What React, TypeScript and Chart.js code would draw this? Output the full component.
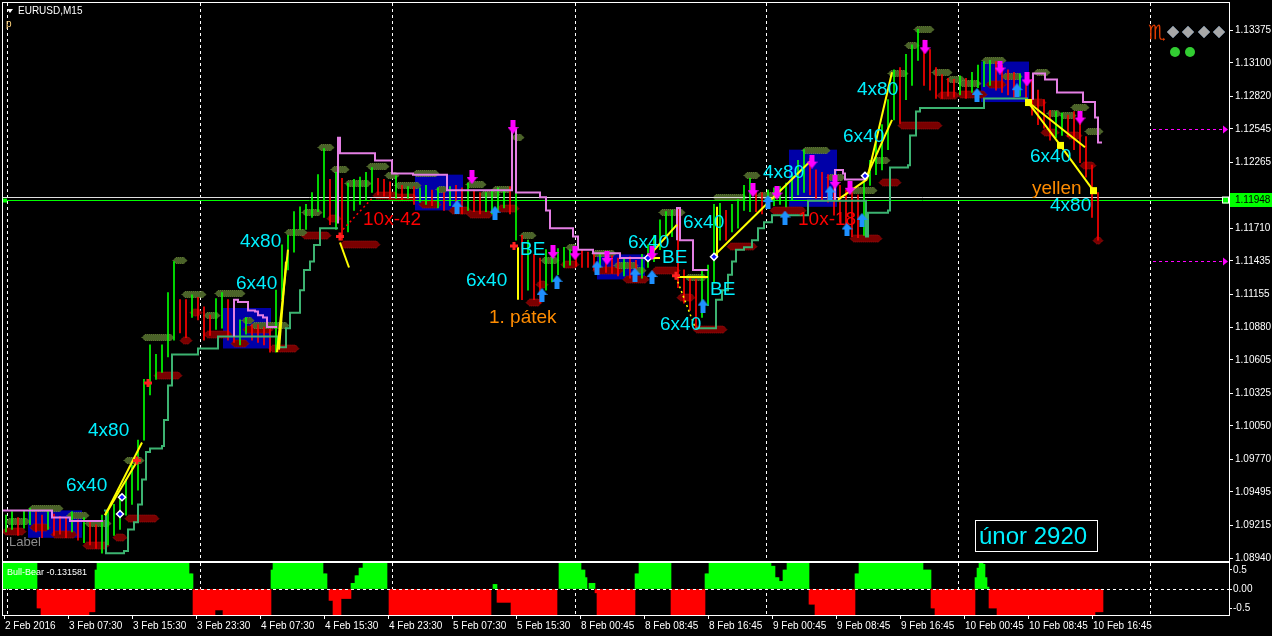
import React, { useEffect, useRef } from 'react';
import { Chart, registerables } from 'chart.js';

Chart.register(...registerables);

// ---------- axes ----------
const BAR_MIN = -0.5;
const BAR_MAX = 612.5;
const PRICE_MIN = 1.08915;
const PRICE_MAX = 1.13602;
const xTickBars = [0, 32, 64, 96, 128, 160, 192, 224, 256, 288, 320, 352, 384, 416, 448, 480, 512, 544];
const xTickLabels = ['2 Feb 2016', '3 Feb 07:30', '3 Feb 15:30', '3 Feb 23:30', '4 Feb 07:30', '4 Feb 15:30', '4 Feb 23:30', '5 Feb 07:30', '5 Feb 15:30', '8 Feb 00:45', '8 Feb 08:45', '8 Feb 16:45', '9 Feb 00:45', '9 Feb 08:45', '9 Feb 16:45', '10 Feb 00:45', '10 Feb 08:45', '10 Feb 16:45'];
const daySeparatorBars = [1.5, 98, 194, 285.5, 381, 477, 573];
const yTickValues = [1.0894, 1.09215, 1.09495, 1.0977, 1.1005, 1.10325, 1.10605, 1.1088, 1.11155, 1.11435, 1.1171, 1.12265, 1.12545, 1.1282, 1.131, 1.13375];
const bidPrice = 1.11948;
const hLinePrice = 1.11972;
const alertPrices = [1.12545, 1.11435];

// ---------- price bars (one sampled every 3 M15 bars) ----------
const candleHigh = [
  1.0930, 1.0933, 1.0928, 1.0934, 1.0936, 1.0933, 1.0930, 1.0934, 1.0931, 1.0929,
  1.0928, 1.0933, 1.0926, 1.0928, 1.0924, 1.0922, 1.0930, 1.0933, 1.0939, 1.0947,
  1.0960, 1.0972, 1.0993, 1.1044, 1.1073, 1.1065, 1.1073, 1.1117, 1.1143, 1.1111,
  1.1111, 1.1115, 1.1113, 1.1105, 1.1098, 1.1112, 1.1117, 1.1111, 1.1092, 1.1094,
  1.1096, 1.1090, 1.1090, 1.1088, 1.1086, 1.1119, 1.1157, 1.1165, 1.1185, 1.1189,
  1.1191, 1.1201, 1.1216, 1.1238, 1.1212, 1.1218, 1.1213, 1.1209, 1.1212, 1.1214,
  1.1218, 1.1222, 1.1213, 1.1212, 1.1210, 1.1215, 1.1207, 1.1206, 1.1206, 1.1205,
  1.1207, 1.1203, 1.1205, 1.1201, 1.1206, 1.1207, 1.1205, 1.1209, 1.1203, 1.1201,
  1.1201, 1.1203, 1.1205, 1.1203, 1.1206, 1.1249, 1.1165, 1.1161, 1.1149, 1.1146,
  1.1153, 1.1151, 1.1154, 1.1155, 1.1153, 1.1154, 1.1153, 1.1151, 1.1149, 1.1149,
  1.1150, 1.1148, 1.1146, 1.1146, 1.1147, 1.1144, 1.1149, 1.1157, 1.1165, 1.1178,
  1.1185, 1.1186, 1.1188, 1.1136, 1.1129, 1.1128, 1.1136, 1.1140, 1.1191, 1.1192,
  1.1186, 1.1191, 1.1195, 1.1207, 1.1213, 1.1201, 1.1201, 1.1203, 1.1205, 1.1206,
  1.1209, 1.1216, 1.1228, 1.1237, 1.1230, 1.1220, 1.1218, 1.1216, 1.1212, 1.1207,
  1.1203, 1.1201, 1.1199, 1.1212, 1.1228, 1.1245, 1.1258, 1.1279, 1.1304, 1.1306,
  1.1317, 1.1325, 1.1338, 1.1329, 1.1321, 1.1306, 1.1300, 1.1297, 1.1296, 1.1299,
  1.1297, 1.1302, 1.1308, 1.1311, 1.1312, 1.1311, 1.1308, 1.1304, 1.1302, 1.1301,
  1.1299, 1.1296, 1.1287, 1.1279, 1.1270, 1.1269, 1.1268, 1.1266, 1.1269, 1.1262,
  1.1248, 1.1224, 1.1201
];
const candleLow = [
  1.0916, 1.0918, 1.0913, 1.0919, 1.0922, 1.0916, 1.0911, 1.0918, 1.0913, 1.0914,
  1.0911, 1.0916, 1.0909, 1.0907, 1.0905, 1.0902, 1.0898, 1.0905, 1.0913, 1.0918,
  1.0930, 1.0939, 1.0951, 1.0993, 1.1031, 1.1044, 1.1050, 1.1063, 1.1077, 1.1083,
  1.1079, 1.1096, 1.1094, 1.1077, 1.1081, 1.1086, 1.1087, 1.1077, 1.1075, 1.1073,
  1.1082, 1.1077, 1.1075, 1.1073, 1.1067, 1.1067, 1.1111, 1.1136, 1.1151, 1.1170,
  1.1170, 1.1180, 1.1185, 1.1180, 1.1174, 1.1170, 1.1161, 1.1168, 1.1186, 1.1191,
  1.1195, 1.1201, 1.1199, 1.1198, 1.1196, 1.1196, 1.1195, 1.1196, 1.1191, 1.1193,
  1.1191, 1.1190, 1.1188, 1.1186, 1.1190, 1.1185, 1.1183, 1.1186, 1.1185, 1.1183,
  1.1185, 1.1183, 1.1186, 1.1188, 1.1183, 1.1161, 1.1111, 1.1119, 1.1111, 1.1108,
  1.1119, 1.1126, 1.1132, 1.1138, 1.1140, 1.1139, 1.1138, 1.1138, 1.1136, 1.1138,
  1.1134, 1.1133, 1.1131, 1.1131, 1.1129, 1.1128, 1.1129, 1.1138, 1.1143, 1.1153,
  1.1163, 1.1164, 1.1121, 1.1108, 1.1102, 1.1086, 1.1096, 1.1106, 1.1126, 1.1161,
  1.1161, 1.1168, 1.1171, 1.1186, 1.1185, 1.1185, 1.1183, 1.1188, 1.1190, 1.1191,
  1.1189, 1.1195, 1.1199, 1.1201, 1.1199, 1.1196, 1.1195, 1.1193, 1.1182, 1.1176,
  1.1174, 1.1164, 1.1163, 1.1165, 1.1207, 1.1216, 1.1220, 1.1237, 1.1262, 1.1259,
  1.1279, 1.1291, 1.1312, 1.1291, 1.1287, 1.1280, 1.1280, 1.1282, 1.1281, 1.1283,
  1.1280, 1.1285, 1.1289, 1.1290, 1.1291, 1.1287, 1.1285, 1.1283, 1.1281, 1.1282,
  1.1279, 1.1266, 1.1258, 1.1255, 1.1245, 1.1247, 1.1249, 1.1248, 1.1237, 1.1226,
  1.1214, 1.1180, 1.1161
];

// ---------- trailing lines: [bar, price] ----------
const tealSegments = [
  [[50, 1.0934], [51, 1.0898], [60, 1.0900], [62, 1.0918], [65, 1.0924], [67, 1.0939], [69, 1.0960], [71, 1.0983], [73, 1.0986], [79, 1.0988], [80, 1.1010], [82, 1.1039], [84, 1.1065], [97, 1.1070], [107, 1.1080], [137, 1.1071], [141, 1.1087], [143, 1.1100], [148, 1.1119], [150, 1.1136], [153, 1.1143], [155, 1.1157], [158, 1.1171], [167, 1.1171]],
  [[346, 1.1087], [356, 1.1111], [359, 1.1119], [362, 1.1132], [364, 1.1143], [366, 1.1153], [370, 1.1155], [374, 1.1161], [377, 1.1171], [380, 1.1176], [384, 1.1182], [402, 1.1194], [431, 1.1164], [432, 1.1184], [442, 1.1186], [443, 1.1222], [452, 1.1224], [453, 1.1249], [456, 1.1269], [458, 1.1272], [490, 1.1280], [512, 1.1280]]
];
const pinkSegments = [
  [[-0.5, 1.0934], [24, 1.0928], [33, 1.0925], [49.5, 1.0925]],
  [[115, 1.1080], [115, 1.1111], [117, 1.1109], [122, 1.1102], [125.5, 1.1101], [127, 1.1098], [129.5, 1.1096], [131.5, 1.1088], [136.5, 1.1088]],
  [[167, 1.1175], [167, 1.1247], [168, 1.1234], [185.5, 1.1228], [194, 1.1217], [204.5, 1.1216], [221.5, 1.1203], [254, 1.1254], [256, 1.1201], [268, 1.1197], [271, 1.1186], [273, 1.1171], [284.5, 1.1164], [287, 1.1153], [294.5, 1.1150], [308, 1.1146], [322, 1.1146]],
  [[336.5, 1.1161], [336.5, 1.1188], [338, 1.1161], [344.5, 1.1136], [352, 1.1136]],
  [[415.5, 1.1195], [415.5, 1.1220], [419.5, 1.1217], [420.5, 1.1212], [431.5, 1.1212]],
  [[514.5, 1.1279], [514.5, 1.1301], [520.5, 1.1296], [526.5, 1.1285], [539.5, 1.1277], [545.5, 1.1264], [547, 1.1243], [549, 1.1243]]
];

// ---------- trade lines [bar1, price1, bar2, price2] ----------
const yellowSegs = [
  [50.5, 1.0930, 69, 1.0991], [50.5, 1.0930, 66.5, 1.0975],
  [136.5, 1.1067, 142, 1.1153], [137.5, 1.1069, 141, 1.1143],
  [168, 1.1159, 172.5, 1.1138],
  [257, 1.1155, 257, 1.1111],
  [321.5, 1.1146, 336.5, 1.1174], [321.5, 1.1146, 328, 1.1146],
  [335.5, 1.1130, 352, 1.1130],
  [354.5, 1.1147, 403, 1.1227], [356.5, 1.1147, 356.5, 1.1189],
  [417, 1.1195, 431.5, 1.1212], [431.5, 1.1212, 444, 1.1302], [431.5, 1.1215, 444, 1.1262],
  [512, 1.1277, 528, 1.1241], [528, 1.1241, 544.5, 1.1203], [512, 1.1277, 540.5, 1.1239]
];
const dottedRedSegs = [[169.5, 1.1170, 184.5, 1.1197]];
const dottedYellowSegs = [[336, 1.1130, 345.5, 1.1088]];
const yellowSquares = [[512, 1.1277], [528, 1.1241], [544.5, 1.1203]];

// ---------- signals [bar, price] ----------
const sellArrows = [[254.5, 1.1256], [234, 1.1214], [274.5, 1.1151], [285.5, 1.1150], [301.5, 1.1146], [324, 1.1150], [374.5, 1.1203], [386.5, 1.1201], [404, 1.1227], [415.5, 1.1210], [423, 1.1205], [460.5, 1.1323], [498, 1.1306], [511.5, 1.1296], [538, 1.1264]];
const buyArrows = [[226.5, 1.1189], [245.5, 1.1184], [269, 1.1115], [276.5, 1.1126], [296.5, 1.1138], [315.5, 1.1132], [324, 1.1130], [349.5, 1.1106], [382, 1.1193], [390.5, 1.1180], [413, 1.1201], [421.5, 1.1170], [429, 1.1178], [486.5, 1.1283], [506.5, 1.1287]];
const crossMarks = [[168, 1.1164], [255, 1.1156], [336, 1.1131], [72, 1.1041], [66.5, 1.0976]];
const entryMarks = [[355, 1.1147], [430.5, 1.1215], [322, 1.1146], [58, 1.0931], [59, 1.0945]];

// ---------- range boxes [bar1, bar2, priceTop, priceBottom] ----------
const rangeBoxes = [
  [12, 39, 1.0934, 1.0911], [109.5, 133.5, 1.1104, 1.1070], [205.5, 229.5, 1.1216, 1.1186],
  [296.5, 320.5, 1.1149, 1.1128], [392.5, 416.5, 1.1237, 1.1189], [488.5, 512.5, 1.1311, 1.1277]
];

// ---------- fractal zones [bar, price, widthBars] ----------
const highZones = [
  [7, 1.0925, 12], [21, 1.0936, 17], [37, 1.0930, 11], [47, 1.0923, 13], [65, 1.0976, 10], [77, 1.1080, 16],
  [88, 1.1144, 7], [95, 1.1116, 12], [104, 1.1098, 8], [113, 1.1117, 15], [122, 1.1094, 6], [133, 1.1090, 19],
  [146, 1.1168, 11], [154, 1.1185, 10], [161, 1.1239, 8], [168, 1.1221, 9], [177, 1.1209, 13], [187, 1.1223, 11],
  [194, 1.1216, 7], [202, 1.1207, 13], [211, 1.1217, 13], [219, 1.1204, 6], [236, 1.1208, 10], [243, 1.1200, 10],
  [249, 1.1204, 10], [257, 1.1248, 6], [262, 1.1165, 8], [273, 1.1144, 9], [284, 1.1155, 6], [300, 1.1150, 12],
  [311, 1.1140, 12], [318, 1.1136, 6], [334, 1.1185, 13], [346, 1.1130, 11], [363, 1.1197, 17], [374, 1.1216, 8],
  [382, 1.1199, 11], [406, 1.1237, 14], [416, 1.1214, 9], [429, 1.1203, 15], [439, 1.1228, 8], [447, 1.1301, 10],
  [454, 1.1325, 7], [460, 1.1338, 10], [469, 1.1302, 10], [476, 1.1296, 9], [483, 1.1293, 11], [495, 1.1312, 12],
  [504, 1.1299, 10], [519, 1.1302, 8], [525, 1.1268, 7], [532, 1.1266, 8], [538, 1.1273, 9], [545, 1.1253, 9]
];
const lowZones = [
  [5, 1.0917, 12], [18, 1.0920, 10], [30, 1.0914, 13], [46, 1.0905, 13], [58, 1.0912, 7], [69, 1.0928, 17],
  [82, 1.1048, 14], [91, 1.1077, 6], [96, 1.1101, 6], [107, 1.1082, 14], [118, 1.1075, 9], [127, 1.1086, 15],
  [140, 1.1070, 15], [156, 1.1165, 15], [165, 1.1180, 7], [178, 1.1158, 20], [191, 1.1199, 13], [199, 1.1197, 15],
  [213, 1.1191, 11], [228, 1.1186, 11], [238, 1.1183, 13], [252, 1.1188, 11], [265, 1.1109, 8], [269, 1.1124, 6],
  [283, 1.1141, 9], [302, 1.1136, 15], [316, 1.1128, 13], [331, 1.1136, 14], [341, 1.1113, 9], [353, 1.1086, 17],
  [369, 1.1156, 15], [392, 1.1186, 18], [431, 1.1163, 16], [443, 1.1210, 11], [458, 1.1258, 22], [472, 1.1283, 11],
  [484, 1.1284, 15], [496, 1.1292, 10], [516, 1.1277, 10], [523, 1.1252, 9], [535, 1.1249, 8], [542, 1.1224, 8],
  [547, 1.1161, 5]
];

// ---------- text objects [text, bar, price, colour] ----------
const textObjects = [
  ['4x80', 42, 1.1001, 'cyan'], ['6x40', 31, 1.0955, 'cyan'], ['4x80', 118, 1.1160, 'cyan'], ['6x40', 116, 1.1124, 'cyan'],
  ['6x40', 231, 1.1127, 'cyan'], ['BE', 258, 1.1153, 'cyan'], ['6x40', 312, 1.1159, 'cyan'], ['6x40', 339.5, 1.1176, 'cyan'],
  ['BE', 329, 1.1146, 'cyan'], ['BE', 353, 1.1119, 'cyan'], ['6x40', 328, 1.1090, 'cyan'], ['4x80', 379.5, 1.1218, 'cyan'],
  ['6x40', 419.5, 1.1248, 'cyan'], ['4x80', 426.5, 1.1287, 'cyan'], ['6x40', 513, 1.1231, 'cyan'], ['4x80', 523, 1.1190, 'cyan'],
  ['10x-42', 179.5, 1.1178, 'red'], ['10x-18', 397, 1.1178, 'red'],
  ['1. pátek', 242.5, 1.1096, 'orange'], ['yellen', 514, 1.1204, 'orange']
];
const cornerLabel = ['Label', 2.5, 1.0907];

// ---------- Bull-Bear histogram runs [fromBar, toBar, value] ----------
const bullBearRuns = [
  [0, 16, 0.9], [17, 18, -0.5], [19, 42, -0.9], [43, 45, -0.6], [46, 46, 0.5], [47, 92, 0.9], [93, 94, 0.4],
  [95, 105, -0.9], [106, 109, -0.55], [110, 133, -0.9], [134, 134, 0.5], [135, 159, 0.9], [160, 161, 0.4],
  [163, 164, -0.3], [165, 168, -0.9], [169, 173, -0.25], [174, 175, 0.15], [176, 177, 0.35], [178, 179, 0.55],
  [180, 191, 0.9], [193, 243, -0.9], [245, 246, 0.12], [247, 253, -0.35], [254, 276, -0.9], [278, 288, 0.9],
  [289, 290, 0.5], [291, 291, 0.3], [293, 295, 0.15], [296, 296, -0.1], [297, 315, -0.9], [316, 317, 0.4],
  [318, 333, 0.9], [334, 350, -0.9], [351, 352, 0.4], [353, 383, 0.9], [384, 385, 0.6], [386, 387, 0.3],
  [388, 389, 0.2], [390, 391, 0.5], [392, 402, 0.9], [403, 405, -0.4], [406, 425, -0.9], [426, 427, 0.4],
  [428, 459, 0.9], [460, 463, 0.5], [464, 465, -0.5], [466, 485, -0.9], [486, 486, 0.3], [487, 487, 0.55],
  [488, 488, 0.75], [489, 489, 0.8], [490, 490, 0.65], [491, 491, 0.3], [492, 492, 0.05], [493, 496, -0.5],
  [497, 545, -0.9], [546, 549, -0.6]
];
const bullBearLast = '-0.131581';
const IND_RANGE = 0.684;
const indTickValues = [-0.5, 0, 0.5];

const FONT = '"Liberation Sans", Arial, sans-serif';
const COLORS = { cyan: '#00f0ff', red: '#ff0000', orange: '#ff8c00' };

function makeArrow(color, down) {
  const c = document.createElement('canvas');
  c.width = 11;
  c.height = 14;
  const g = c.getContext('2d');
  g.fillStyle = color;
  g.beginPath();
  if (down) {
    g.moveTo(3, 0); g.lineTo(8, 0); g.lineTo(8, 7); g.lineTo(11, 7); g.lineTo(5.5, 14); g.lineTo(0, 7); g.lineTo(3, 7);
  } else {
    g.moveTo(3, 14); g.lineTo(8, 14); g.lineTo(8, 7); g.lineTo(11, 7); g.lineTo(5.5, 0); g.lineTo(0, 7); g.lineTo(3, 7);
  }
  g.closePath();
  g.fill();
  return c;
}

function withGaps(segs) {
  const out = [];
  segs.forEach((s, k) => {
    if (k > 0) out.push({ x: segs[k - 1][segs[k - 1].length - 1][0] + 0.01, y: null });
    s.forEach(([b, p]) => out.push({ x: b, y: p }));
  });
  return out;
}

function hexPath(ctx, cx, cy, w, h) {
  const hw = w / 2, hh = h / 2;
  const e = Math.min(hh, hw);
  ctx.beginPath();
  ctx.moveTo(cx - hw, cy);
  ctx.lineTo(cx - hw + e, cy - hh);
  ctx.lineTo(cx + hw - e, cy - hh);
  ctx.lineTo(cx + hw, cy);
  ctx.lineTo(cx + hw - e, cy + hh);
  ctx.lineTo(cx - hw + e, cy + hh);
  ctx.closePath();
}

const mainPlugin = {
  id: 'mt4Main',
  beforeDraw(chart) {
    const { ctx, width, height } = chart;
    ctx.save();
    ctx.fillStyle = '#000';
    ctx.fillRect(0, 0, width, height);
    ctx.restore();
  },
  beforeDatasetsDraw(chart) {
    const { ctx, chartArea: a } = chart;
    const xs = chart.scales.x, ys = chart.scales.y;
    ctx.save();
    ctx.beginPath();
    ctx.rect(a.left, a.top, a.right - a.left, a.bottom - a.top);
    ctx.clip();
    ctx.fillStyle = '#0000a8';
    rangeBoxes.forEach(([b1, b2, p1, p2]) => {
      const x1 = xs.getPixelForValue(b1), x2 = xs.getPixelForValue(b2);
      const y1 = ys.getPixelForValue(p1), y2 = ys.getPixelForValue(p2);
      ctx.fillRect(x1, y1, x2 - x1, y2 - y1);
    });
    ctx.strokeStyle = '#ffffff';
    ctx.lineWidth = 1;
    ctx.setLineDash([3, 3]);
    daySeparatorBars.forEach((b) => {
      const x = Math.round(xs.getPixelForValue(b)) + 0.5;
      ctx.beginPath();
      ctx.moveTo(x, a.top);
      ctx.lineTo(x, a.bottom);
      ctx.stroke();
    });
    ctx.setLineDash([]);
    const drawZones = (list, fill, edge, h) => {
      list.forEach(([b, p, w]) => {
        const cx = xs.getPixelForValue(b);
        const cy = Math.round(ys.getPixelForValue(p)) + 0.5;
        const pw = xs.getPixelForValue(b + w / 2) - xs.getPixelForValue(b - w / 2);
        hexPath(ctx, cx, cy, pw, h);
        ctx.fillStyle = fill;
        ctx.fill();
        ctx.setLineDash([1, 1]);
        ctx.strokeStyle = edge;
        ctx.stroke();
        ctx.setLineDash([]);
      });
    };
    drawZones(lowZones, '#7a0000', '#a01010', 7);
    drawZones(highZones, '#4b6329', '#6f8c3c', 6);
    const yh = Math.round(ys.getPixelForValue(hLinePrice)) + 0.5;
    ctx.strokeStyle = '#e0e0e0';
    ctx.beginPath(); ctx.moveTo(a.left, yh); ctx.lineTo(a.right, yh); ctx.stroke();
    const yb = Math.round(ys.getPixelForValue(bidPrice)) + 0.5;
    ctx.strokeStyle = '#00ff00';
    ctx.beginPath(); ctx.moveTo(a.left, yb); ctx.lineTo(a.right, yb); ctx.stroke();
    ctx.restore();
  },
  afterDatasetsDraw(chart) {
    const { ctx, chartArea: a } = chart;
    const xs = chart.scales.x, ys = chart.scales.y;
    ctx.save();
    ctx.fillStyle = '#ffff00';
    yellowSquares.forEach(([b, p]) => {
      const x = xs.getPixelForValue(b), y = ys.getPixelForValue(p);
      ctx.fillRect(x - 3, y - 3, 7, 7);
    });
    ctx.strokeStyle = '#ff00ff';
    ctx.fillStyle = '#ff00ff';
    alertPrices.forEach((p) => {
      const y = Math.round(ys.getPixelForValue(p)) + 0.5;
      const x1 = xs.getPixelForValue(574.5), x2 = xs.getPixelForValue(609.5);
      ctx.setLineDash([3, 3]);
      ctx.beginPath(); ctx.moveTo(x1, y); ctx.lineTo(x2, y); ctx.stroke();
      ctx.setLineDash([]);
      ctx.beginPath(); ctx.moveTo(x2, y - 4); ctx.lineTo(x2 + 5, y); ctx.lineTo(x2, y + 4); ctx.closePath(); ctx.fill();
    });
    ctx.textBaseline = 'middle';
    ctx.textAlign = 'left';
    ctx.font = '19px ' + FONT;
    textObjects.forEach(([t, b, p, c]) => {
      ctx.fillStyle = COLORS[c];
      ctx.fillText(t, xs.getPixelForValue(b), ys.getPixelForValue(p));
    });
    ctx.font = '13px ' + FONT;
    ctx.fillStyle = '#8c8c8c';
    ctx.fillText(cornerLabel[0], xs.getPixelForValue(cornerLabel[1]), ys.getPixelForValue(cornerLabel[2]));
    const yb = Math.round(ys.getPixelForValue(bidPrice)) + 0.5;
    ctx.fillStyle = '#00ff00';
    ctx.strokeStyle = '#ffffff';
    ctx.fillRect(a.right - 6, yb - 3, 6, 6);
    ctx.strokeRect(a.right - 6.5, yb - 3.5, 6, 6);
    ctx.fillRect(a.left, yb - 2, 4, 4);
    ctx.strokeStyle = '#ffffff';
    ctx.lineWidth = 1;
    ctx.strokeRect(a.left - 0.5, a.top - 0.5, a.right - a.left + 1, a.bottom - a.top + 1);
    ctx.fillStyle = '#ffffff';
    ctx.beginPath(); ctx.moveTo(7, 9); ctx.lineTo(13, 9); ctx.lineTo(10, 13); ctx.closePath(); ctx.fill();
    ctx.font = '10px ' + FONT;
    ctx.fillText('EURUSD,M15', 18, 11);
    ctx.fillStyle = '#ffd27a';
    ctx.fillText('p', 6, 24);
    ctx.font = '20px "DejaVu Sans"';
    ctx.fillStyle = '#e03c00';
    ctx.fillText('\u264F', 1148, 34);
    [1173, 1188, 1204, 1219].forEach((cx) => {
      ctx.beginPath();
      ctx.moveTo(cx, 26); ctx.lineTo(cx + 6, 32); ctx.lineTo(cx, 38); ctx.lineTo(cx - 6, 32); ctx.closePath();
      ctx.fillStyle = '#a8a8a8';
      ctx.fill();
      ctx.strokeStyle = '#6a7a8a';
      ctx.stroke();
    });
    ctx.fillStyle = '#32cd32';
    [1175, 1190].forEach((cx) => { ctx.beginPath(); ctx.arc(cx, 52, 5, 0, Math.PI * 2); ctx.fill(); });
    ctx.strokeStyle = '#ffffff';
    ctx.strokeRect(975.5, 520.5, 122, 31);
    ctx.fillStyle = COLORS.cyan;
    ctx.font = '24px ' + FONT;
    ctx.fillText('únor 2920', 979, 537);
    ctx.restore();
  },
  afterDraw(chart) {
    const { ctx, chartArea: a } = chart;
    const ys = chart.scales.y;
    const yb = Math.round(ys.getPixelForValue(bidPrice));
    ctx.save();
    ctx.fillStyle = '#00ff00';
    ctx.fillRect(a.right + 1, yb - 7, 1272 - a.right, 14);
    ctx.fillStyle = '#000000';
    ctx.font = '10px ' + FONT;
    ctx.textBaseline = 'middle';
    ctx.fillText(bidPrice.toFixed(5), a.right + 6, yb + 0.5);
    ctx.restore();
  }
};

const subPlugin = {
  id: 'mt4Sub',
  beforeDraw(chart) {
    const { ctx, width, height } = chart;
    ctx.save();
    ctx.fillStyle = '#000';
    ctx.fillRect(0, 0, width, height);
    ctx.restore();
  },
  beforeDatasetsDraw(chart) {
    const { ctx, chartArea: a } = chart;
    const xs = chart.scales.x;
    ctx.save();
    ctx.strokeStyle = '#ffffff';
    ctx.setLineDash([3, 3]);
    daySeparatorBars.forEach((b) => {
      const x = Math.round(xs.getPixelForValue(b)) + 0.5;
      ctx.beginPath(); ctx.moveTo(x, a.top); ctx.lineTo(x, a.bottom); ctx.stroke();
    });
    ctx.restore();
  },
  afterDatasetsDraw(chart) {
    const { ctx, chartArea: a } = chart;
    const ys = chart.scales.y;
    ctx.save();
    const y0 = Math.round(ys.getPixelForValue(0)) + 0.5;
    ctx.strokeStyle = '#ffffff';
    ctx.setLineDash([3, 3]);
    ctx.beginPath(); ctx.moveTo(a.left, y0); ctx.lineTo(a.right, y0); ctx.stroke();
    ctx.setLineDash([]);
    ctx.strokeRect(a.left - 0.5, a.top - 0.5, a.right - a.left + 1, a.bottom - a.top + 1);
    ctx.fillStyle = '#ffffff';
    ctx.font = '9px ' + FONT;
    ctx.textBaseline = 'middle';
    ctx.fillText('Bull-Bear ' + bullBearLast, 7, a.top + 10);
    ctx.restore();
  }
};

export default function App() {
  const mainRef = useRef(null);
  const subRef = useRef(null);

  useEffect(() => {
    document.body.style.margin = '0';
    document.body.style.background = '#000';
    const sellImg = makeArrow('#ff00ff', true);
    const buyImg = makeArrow('#1e90ff', false);

    const candleData = candleHigh.map((h, i) => ({ x: 1 + 3 * i, y: [candleLow[i], h] }));
    const candleColors = candleHigh.map((h, i) => {
      const mid = (h + candleLow[i]) / 2;
      const prev = i > 0 ? (candleHigh[i - 1] + candleLow[i - 1]) / 2 : mid;
      return mid >= prev ? '#00ff00' : '#ff0000';
    });

    const segDataset = (seg, color, width, dash) => ({
      type: 'line',
      data: [{ x: seg[0], y: seg[1] }, { x: seg[2], y: seg[3] }],
      borderColor: color,
      borderWidth: width,
      borderDash: dash || [],
      pointRadius: 0,
      order: 3
    });

    const datasets = [
      ...yellowSegs.map((s) => segDataset(s, '#ffff00', 2)),
      ...dottedRedSegs.map((s) => segDataset(s, '#ff0000', 1.5, [2, 3])),
      ...dottedYellowSegs.map((s) => segDataset(s, '#ffff00', 1.5, [2, 3])),
      { type: 'scatter', data: sellArrows.map(([x, y]) => ({ x, y })), pointStyle: sellImg, pointRadius: 6, order: 1 },
      { type: 'scatter', data: buyArrows.map(([x, y]) => ({ x, y })), pointStyle: buyImg, pointRadius: 6, order: 1 },
      {
        type: 'scatter', data: crossMarks.map(([x, y]) => ({ x, y })), pointStyle: 'cross', pointRadius: 4,
        borderColor: '#ff2020', borderWidth: 3, order: 1
      },
      {
        type: 'scatter', data: entryMarks.map(([x, y]) => ({ x, y })), pointStyle: 'rectRot', pointRadius: 3.5,
        backgroundColor: '#1010ff', borderColor: '#ffffff', borderWidth: 1.5, order: 1
      },
      {
        type: 'line', data: withGaps(pinkSegments), borderColor: '#e47fe4', borderWidth: 2, stepped: true,
        pointRadius: 0, spanGaps: false, order: 4
      },
      {
        type: 'line', data: withGaps(tealSegments), borderColor: '#3cb371', borderWidth: 2, stepped: true,
        pointRadius: 0, spanGaps: false, order: 4
      },
      { type: 'bar', data: candleData, backgroundColor: candleColors, barThickness: 1, borderWidth: 0, order: 5 }
    ];

    const main = new Chart(mainRef.current, {
      type: 'line',
      data: { datasets },
      options: {
        responsive: false,
        animation: false,
        events: [],
        layout: { autoPadding: false, padding: { left: 3, top: 3, right: 0, bottom: 2 } },
        plugins: { legend: { display: false }, tooltip: { enabled: false } },
        scales: {
          x: { type: 'linear', min: BAR_MIN, max: BAR_MAX, display: false, offset: false },
          y: {
            type: 'linear', position: 'right', min: PRICE_MIN, max: PRICE_MAX,
            afterBuildTicks: (s) => { s.ticks = yTickValues.map((v) => ({ value: v })); },
            afterFit: (s) => { s.width = 43; s.paddingTop = 0; s.paddingBottom = 0; },
            grid: { drawOnChartArea: false, drawTicks: true, tickLength: 4, tickColor: '#ffffff', color: '#ffffff' },
            border: { display: false },
            ticks: {
              color: '#ffffff', font: { family: 'Liberation Sans', size: 10 }, padding: 2, autoSkip: false,
              callback: (v) => Number(v).toFixed(5)
            }
          }
        }
      },
      plugins: [mainPlugin]
    });

    const histData = [];
    bullBearRuns.forEach(([a, b, v]) => {
      for (let i = a; i <= b; i++) histData.push({ x: i, y: v });
    });

    const sub = new Chart(subRef.current, {
      type: 'line',
      data: {
        datasets: [{
          type: 'bar', data: histData, barThickness: 2, borderWidth: 0,
          backgroundColor: histData.map((d) => (d.y >= 0 ? '#00ff00' : '#ff0000'))
        }]
      },
      options: {
        responsive: false,
        animation: false,
        events: [],
        layout: { autoPadding: false, padding: { left: 3, top: 1, right: 0, bottom: 0 } },
        plugins: { legend: { display: false }, tooltip: { enabled: false } },
        scales: {
          x: {
            type: 'linear', min: BAR_MIN, max: BAR_MAX, offset: false,
            afterBuildTicks: (s) => { s.ticks = xTickBars.map((v) => ({ value: v })); },
            afterFit: (s) => { s.height = 21; s.paddingLeft = 0; s.paddingRight = 0; },
            grid: { drawOnChartArea: false, drawTicks: true, tickLength: 4, tickColor: '#ffffff', color: '#ffffff', offset: false },
            border: { display: false },
            ticks: {
              color: '#ffffff', font: { family: 'Liberation Sans', size: 10 }, padding: 1, align: 'start',
              autoSkip: false, maxRotation: 0, labelOffset: 1,
              callback: (v, i) => xTickLabels[i]
            }
          },
          y: {
            type: 'linear', position: 'right', min: -IND_RANGE, max: IND_RANGE,
            afterBuildTicks: (s) => { s.ticks = indTickValues.map((v) => ({ value: v })); },
            afterFit: (s) => { s.width = 43; s.paddingTop = 0; s.paddingBottom = 0; },
            grid: { drawOnChartArea: false, drawTicks: true, tickLength: 3, tickColor: '#ffffff', color: '#ffffff' },
            border: { display: false },
            ticks: {
              color: '#ffffff', font: { family: 'Liberation Sans', size: 10 }, padding: 1, autoSkip: false,
              callback: (v) => (v === 0 ? '0.00' : String(v))
            }
          }
        }
      },
      plugins: [subPlugin]
    });

    return () => {
      main.destroy();
      sub.destroy();
    };
  }, []);

  return (
    <div style={{ position: 'fixed', left: 0, top: 0, width: 1272, height: 636, background: '#000', overflow: 'hidden' }}>
      <canvas ref={mainRef} width={1272} height={563} style={{ position: 'absolute', left: 0, top: 0 }} />
      <canvas ref={subRef} width={1272} height={74} style={{ position: 'absolute', left: 0, top: 562 }} />
    </div>
  );
}
